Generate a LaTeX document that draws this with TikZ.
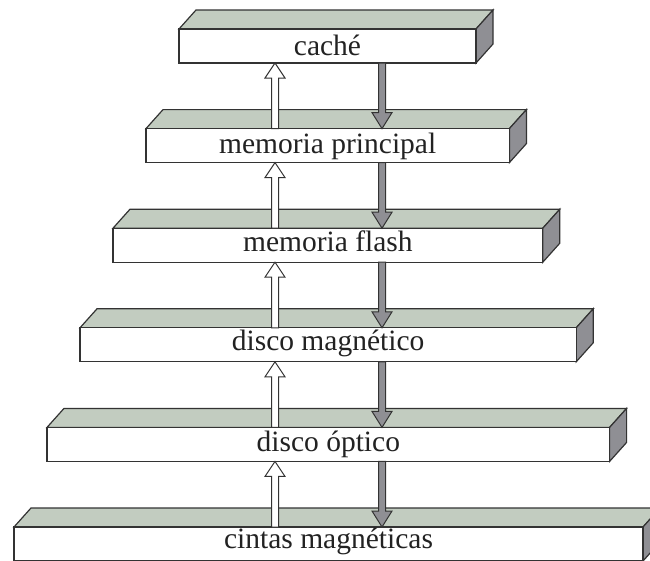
\documentclass[tikz,border=0pt]{standalone}
\usepackage{fontspec}
\setmainfont{Liberation Serif}
\definecolor{sage}{HTML}{C2CCC0}
\definecolor{sidegray}{HTML}{8F8F94}
\definecolor{edgecol}{HTML}{333333}
\definecolor{txtcol}{HTML}{222222}
\begin{document}
\begin{tikzpicture}[x=1pt,y=-1pt,line join=miter]
\useasboundingbox (0,0) rectangle (650,560);
\tikzset{
  topface/.style={draw=edgecol,line width=1.2pt,fill=sage},
  sideface/.style={draw=edgecol,line width=1.2pt,fill=sidegray},
  frontface/.style={draw=edgecol,line width=1.2pt,fill=white},
  lbl/.style={anchor=base,inner sep=0pt,font=\fontsize{29.5}{35}\selectfont,text=txtcol},
  uparr/.style={draw=edgecol,line width=1pt,fill=white},
  downarr/.style={draw=edgecol,line width=1pt,fill=sidegray},
}
\foreach \k/\txt/\off in {0/caché/26,1/memoria principal/25,2/memoria flash/23,3/disco magnético/23,4/disco óptico/24,5/cintas magnéticas/21}{
  \pgfmathsetmacro\L{179-33*\k}
  \pgfmathsetmacro\R{476+33.4*\k}
  \pgfmathsetmacro\T{29+99.6*\k}
  \pgfmathsetmacro\B{\T+34}
  \pgfmathsetmacro\C{(\L+\R)/2}
  \pgfmathsetmacro\Y{\T+\off}
  \path[topface] (\L,\T) -- (\L+17,\T-19) -- (\R+17,\T-19) -- (\R,\T) -- cycle;
  \path[sideface] (\R,\T) -- (\R+17,\T-19) -- (\R+17,\B-19) -- (\R,\B) -- cycle;
  \path[frontface] (\L,\T) rectangle (\R,\B);
  \node[lbl] (t\k) at (\C,\Y) {\txt};
}
\foreach \k in {0,...,4}{
  \pgfmathsetmacro\ya{29+99.6*\k+34}
  \pgfmathsetmacro\yb{29+99.6*(\k+1)}
  % up arrow (white)
  \path[uparr] (271.5,\yb) -- (271.5,\ya+15) -- (265,\ya+15) -- (275,\ya) -- (285,\ya+15) -- (278.5,\ya+15) -- (278.5,\yb) -- cycle;
  % down arrow (gray)
  \path[downarr] (378.5,\ya) -- (378.5,\yb-16) -- (372,\yb-16) -- (382,\yb) -- (392,\yb-16) -- (385.5,\yb-16) -- (385.5,\ya) -- cycle;
}
\end{tikzpicture}
\end{document}
